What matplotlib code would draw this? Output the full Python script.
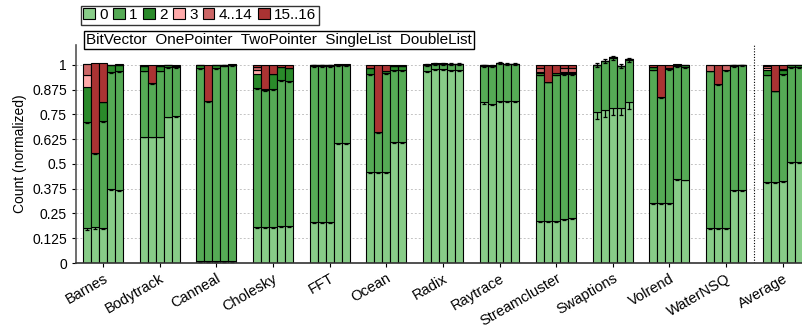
import numpy as np
import matplotlib
matplotlib.use("Agg")
import matplotlib.pyplot as plt
from matplotlib.patches import Patch

plt.rcParams['font.family'] = ['Liberation Sans', 'DejaVu Sans']

benchmarks = ["Barnes", "Bodytrack", "Canneal", "Cholesky", "FFT", "Ocean", "Radix",
              "Raytrace", "Streamcluster", "Swaptions", "Volrend", "WaterNSQ", "Average"]
configs = ["BitVector", "OnePointer", "TwoPointer", "SingleList", "DoubleList"]
layer_names = ["0", "1", "2", "3", "4..14", "15..16"]

# segment heights per benchmark, 5 configs each
c0 = [[0.175, 0.180, 0.177, 0.374, 0.369],
      [0.638, 0.638, 0.638, 0.739, 0.742],
      [0.008, 0.008, 0.008, 0.008, 0.008],
      [0.183, 0.183, 0.183, 0.189, 0.189],
      [0.205, 0.205, 0.205, 0.606, 0.606],
      [0.461, 0.461, 0.461, 0.613, 0.613],
      [0.968, 0.980, 0.980, 0.975, 0.975],
      [0.811, 0.803, 0.820, 0.820, 0.820],
      [0.210, 0.210, 0.210, 0.222, 0.227],
      [0.761, 0.773, 0.783, 0.783, 0.811],
      [0.303, 0.303, 0.303, 0.424, 0.421],
      [0.177, 0.177, 0.177, 0.369, 0.369],
      [0.407, 0.411, 0.412, 0.512, 0.512]]
c1 = [[0.539, 0.374, 0.542, 0.589, 0.599],
      [0.333, 0.269, 0.333, 0.249, 0.248],
      [0.975, 0.808, 0.975, 0.987, 0.989],
      [0.699, 0.691, 0.696, 0.737, 0.732],
      [0.790, 0.790, 0.790, 0.391, 0.391],
      [0.494, 0.199, 0.497, 0.362, 0.362],
      [0.032, 0.026, 0.026, 0.029, 0.029],
      [0.184, 0.192, 0.190, 0.185, 0.185],
      [0.741, 0.706, 0.741, 0.733, 0.728],
      [0.236, 0.246, 0.252, 0.210, 0.214],
      [0.673, 0.534, 0.677, 0.569, 0.567],
      [0.794, 0.727, 0.798, 0.624, 0.628],
      [0.544, 0.459, 0.543, 0.476, 0.476]]
c2 = [[0.176, 0.000, 0.096, 0.034, 0.032],
      [0.022, 0.000, 0.022, 0.009, 0.006],
      [0.014, 0.000, 0.014, 0.003, 0.003],
      [0.073, 0.000, 0.076, 0.062, 0.064],
      [0.003, 0.003, 0.003, 0.003, 0.003],
      [0.028, 0.000, 0.013, 0.017, 0.020],
      [0.000, 0.000, 0.000, 0.000, 0.000],
      [0.004, 0.000, 0.000, 0.000, 0.000],
      [0.007, 0.000, 0.007, 0.005, 0.005],
      [0.003, 0.003, 0.003, 0.003, 0.003],
      [0.012, 0.000, 0.005, 0.007, 0.009],
      [0.000, 0.000, 0.000, 0.004, 0.002],
      [0.025, 0.000, 0.020, 0.009, 0.009]]
c3 = [[0.057, 0.000, 0.000, 0.000, 0.000],
      [0.000, 0.000, 0.000, 0.000, 0.000],
      [0.000, 0.000, 0.000, 0.000, 0.000],
      [0.020, 0.000, 0.000, 0.000, 0.000],
      [0.000, 0.000, 0.000, 0.000, 0.000],
      [0.000, 0.000, 0.000, 0.000, 0.000],
      [0.000, 0.000, 0.000, 0.000, 0.000],
      [0.000, 0.000, 0.000, 0.000, 0.000],
      [0.007, 0.000, 0.000, 0.005, 0.005],
      [0.000, 0.000, 0.000, 0.000, 0.000],
      [0.000, 0.000, 0.000, 0.000, 0.000],
      [0.000, 0.000, 0.000, 0.000, 0.000],
      [0.009, 0.000, 0.000, 0.000, 0.000]]
c4 = [[0.058, 0.000, 0.000, 0.000, 0.000],
      [0.000, 0.000, 0.000, 0.000, 0.000],
      [0.000, 0.000, 0.000, 0.000, 0.000],
      [0.015, 0.006, 0.000, 0.000, 0.000],
      [0.000, 0.000, 0.000, 0.000, 0.000],
      [0.000, 0.000, 0.000, 0.000, 0.000],
      [0.000, 0.000, 0.000, 0.000, 0.000],
      [0.000, 0.000, 0.000, 0.000, 0.000],
      [0.020, 0.000, 0.000, 0.020, 0.020],
      [0.000, 0.000, 0.000, 0.000, 0.000],
      [0.000, 0.000, 0.000, 0.000, 0.000],
      [0.026, 0.000, 0.022, 0.000, 0.000],
      [0.008, 0.000, 0.005, 0.000, 0.000]]
c5 = [[0.000, 0.453, 0.192, 0.003, 0.003],
      [0.005, 0.093, 0.005, 0.004, 0.004],
      [0.003, 0.184, 0.003, 0.002, 0.005],
      [0.010, 0.119, 0.042, 0.009, 0.012],
      [0.002, 0.002, 0.002, 0.002, 0.002],
      [0.014, 0.340, 0.029, 0.005, 0.005],
      [0.002, 0.003, 0.003, 0.001, 0.001],
      [0.001, 0.005, 0.002, 0.001, 0.001],
      [0.015, 0.084, 0.042, 0.015, 0.015],
      [0.000, 0.000, 0.000, 0.000, 0.000],
      [0.012, 0.163, 0.015, 0.003, 0.003],
      [0.003, 0.096, 0.003, 0.003, 0.002],
      [0.007, 0.130, 0.020, 0.003, 0.003]]

# error on top of layer "0" and layer "1", one value per benchmark
err0 = [0.006, 0.004, 0.002, 0.005, 0.003, 0.005, 0.006, 0.008, 0.004, 0.035, 0.004, 0.004, 0.005]
err1 = [0.005, 0.004, 0.003, 0.005, 0.004, 0.005, 0.005, 0.006, 0.004, 0.010, 0.004, 0.004, 0.004]

colors = ["#88cc88", "#55aa55", "#2a8a2a", "#ffaaaa", "#cc6666", "#aa3333"]

layers = [np.array(c) for c in (c0, c1, c2, c3, c4, c5)]
errs = [np.array(err0), np.array(err1)]

fig = plt.figure(figsize=(8.03, 3.29), dpi=100)
ax = fig.add_axes([0.0946, 0.2006, 0.9054, 0.6624])

x = np.arange(len(benchmarks))
w = 0.141
for j in range(len(configs)):
    xs = x + (j - 2) * w
    bottom = np.zeros(len(benchmarks))
    for k, seg in enumerate(layers):
        h = seg[:, j]
        yerr = None
        if k < 2:
            yerr = np.vstack([errs[k], errs[k]])
        # error bars share zorder with bars, so the next layer hides their upper half
        ax.bar(xs, h, w, bottom=bottom, color=colors[k], edgecolor="black",
               linewidth=0.8, zorder=1, yerr=yerr,
               error_kw=dict(ecolor="black", elinewidth=0.9, capsize=1.5, capthick=0.9, zorder=1))
        bottom = bottom + h

ax.axvline(11.5, color="black", linestyle=(0, (1, 1.5)), linewidth=0.8)

ax.set_xlim(-0.48, 12.36)
ax.set_ylim(0, 1.1)
yt = np.arange(0, 1.01, 0.125)
ax.set_yticks(yt)
ax.set_yticklabels(["0", "0.125", "0.25", "0.375", "0.5", "0.625", "0.75", "0.875", "1"], fontsize=10)
ax.yaxis.grid(True, color="#c4c4c4", linestyle=(0, (2, 2)), linewidth=0.7)
ax.set_axisbelow(True)
ax.set_xticks(x)
ax.set_xticklabels(benchmarks, rotation=30, ha="right", rotation_mode="anchor", fontsize=10.5)
ax.tick_params(axis="x", length=3, pad=3)
ax.tick_params(axis="y", length=3)
ax.set_ylabel("Count (normalized)", fontsize=10)
for s in ("top", "right"):
    ax.spines[s].set_visible(False)
ax.spines["left"].set_color("#555555")
ax.spines["bottom"].set_color("#333333")
ax.spines["left"].set_linewidth(1.2)
ax.spines["bottom"].set_linewidth(1.2)

handles = [Patch(facecolor=c, edgecolor="black", linewidth=0.8) for c in colors]
fig.legend(handles, layer_names, loc="upper left", bbox_to_anchor=(0.101, 0.982),
           ncol=6, fontsize=11, frameon=True, fancybox=False, edgecolor="black",
           handlelength=0.75, handleheight=0.75, handletextpad=0.3, columnspacing=0.35,
           borderpad=0.15, borderaxespad=0)
fig.text(0.107, 0.878, "  ".join(configs), fontsize=11, va="center", ha="left",
         bbox=dict(boxstyle="square,pad=0.12", facecolor="white", edgecolor="black", linewidth=1))

fig.savefig("out.png", dpi=100)
